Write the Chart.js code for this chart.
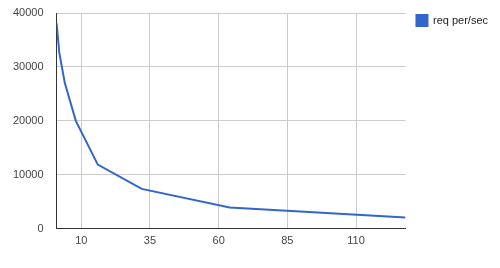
<!DOCTYPE html>
<html>
<head>
<meta charset="utf-8">
<script src="https://cdn.jsdelivr.net/npm/chart.js@4/dist/chart.umd.min.js"></script>
<style>
  html, body { margin: 0; padding: 0; background: #fff; }
  #wrap { width: 500px; height: 268px; }
</style>
</head>
<body>
<div id="wrap"><canvas id="chart"></canvas></div>
<script>
// concurrency level vs requests per second
const concurrency = [1, 2, 4, 8, 16, 32, 64, 128];
const reqPerSec = [38100, 32600, 27000, 20000, 11900, 7400, 3950, 2100];
const xTicks = [10, 35, 60, 85, 110];
const yTicks = [0, 10000, 20000, 30000, 40000];
const seriesName = "req per/sec";

const points = concurrency.map((c, i) => ({ x: c, y: reqPerSec[i] }));

Chart.defaults.font.family = "Arial, 'Liberation Sans', sans-serif";
Chart.defaults.font.size = 11;
Chart.defaults.color = "#444";

const chart = new Chart(document.getElementById("chart"), {
    type: "line",
    data: {
        datasets: [{
            label: seriesName,
            data: points,
            borderColor: "#3366cc",
            backgroundColor: "#3366cc",
            borderWidth: 2,
            pointRadius: 0,
            tension: 0,
            fill: false
        }]
    },
    options: {
        responsive: true,
        maintainAspectRatio: false,
        animation: false,
        layout: { padding: { left: 0, top: 4, right: 2, bottom: 14 } },
        plugins: {
            legend: {
                position: "right",
                align: "start",
                labels: {
                    boxWidth: 11,
                    boxHeight: 11,
                    padding: 11,
                    color: "#222",
                    font: { size: 11 }
                }
            },
            tooltip: { enabled: false }
        },
        scales: {
            x: {
                type: "linear",
                min: 1,
                max: 128,
                afterBuildTicks: axis => { axis.ticks = xTicks.map(v => ({ value: v })); },
                grid: { color: "#cccccc", drawTicks: false },
                border: { color: "#333", width: 1 },
                ticks: { padding: 6, maxRotation: 0 }
            },
            y: {
                min: 0,
                max: 40000,
                afterBuildTicks: axis => { axis.ticks = yTicks.map(v => ({ value: v })); },
                // tick padding would otherwise push the plot top down
                afterFit: axis => { axis.paddingTop = 13; axis.paddingBottom = 7; },
                grid: { color: "#cccccc", drawTicks: false },
                border: { color: "#333", width: 1 },
                ticks: { padding: 13, callback: v => String(v) }
            }
        }
    }
});
</script>
</body>
</html>
